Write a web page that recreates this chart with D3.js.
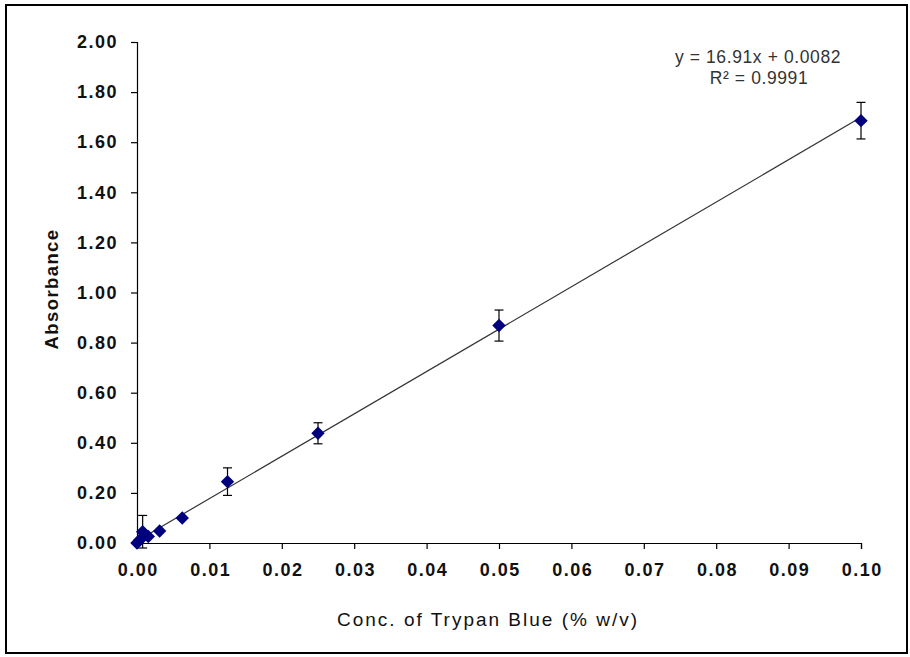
<!DOCTYPE html>
<html><head><meta charset="utf-8">
<script src="https://cdn.jsdelivr.net/npm/d3@7"></script>
<style>body{margin:0;background:#fff}svg{display:block}</style>
</head><body>
<script>
const concentrations = [0, 0.00039, 0.00078, 0.00156, 0.003125, 0.00625, 0.0125, 0.025, 0.05, 0.1];
const absorbance = [0.00, 0.012, 0.045, 0.026, 0.048, 0.100, 0.245, 0.438, 0.868, 1.686];
const errors = [0.0, 0.0, 0.065, 0.0, 0.0, 0.0, 0.055, 0.042, 0.062, 0.073];
const xTicks = [0, 0.01, 0.02, 0.03, 0.04, 0.05, 0.06, 0.07, 0.08, 0.09, 0.10];
const yTicks = [0, 0.2, 0.4, 0.6, 0.8, 1.0, 1.2, 1.4, 1.6, 1.8, 2.0];
const slope = 16.91, intercept = 0.0082;
const xTitle = "Conc. of Trypan Blue (% w/v)";
const yTitle = "Absorbance";
const eqText = "y = 16.91x + 0.0082";
const r2Text = "R² = 0.9991";

const W = 910, H = 657;
const svg = d3.select("body").append("svg").attr("width", W).attr("height", H);
svg.append("rect").attr("x", 6).attr("y", 5).attr("width", 901).attr("height", 648)
  .attr("fill", "#fff").attr("stroke", "#000").attr("stroke-width", 2);

const x = d3.scaleLinear().domain([0, 0.1]).range([137, 861]);
const y = d3.scaleLinear().domain([0, 2]).range([543, 42]);
const font = "Liberation Sans, Arial, sans-serif";

const gx = svg.append("g").attr("transform", "translate(0,543)")
  .call(d3.axisBottom(x).tickValues(xTicks).tickFormat(d3.format(".2f")).tickSizeOuter(0).tickSize(6).tickPadding(14));
const gy = svg.append("g").attr("transform", "translate(137,0)")
  .call(d3.axisLeft(y).tickValues(yTicks).tickFormat(d3.format(".2f")).tickSizeOuter(0).tickSize(6).tickPadding(13));
[gx, gy].forEach(g => {
  g.select(".domain").attr("stroke", "#000").attr("stroke-width", 1.2);
  g.selectAll(".tick line").attr("stroke", "#000").attr("stroke-width", 1.2);
  g.selectAll(".tick text").attr("fill", "#111").style("font-family", font)
    .style("font-size", "18px").style("font-weight", "bold").style("letter-spacing", "1.5px");
});
gx.selectAll(".tick text").attr("dx", "0.75px");

// trendline
svg.append("line").attr("x1", x(0)).attr("y1", y(intercept))
  .attr("x2", x(0.1)).attr("y2", y(slope * 0.1 + intercept))
  .attr("stroke", "#333").attr("stroke-width", 1.2);

// error bars
const eb = svg.append("g").attr("stroke", "#000").attr("stroke-width", 1.2);
concentrations.forEach((c, i) => {
  if (errors[i] <= 0) return;
  const cx = x(c), t = y(absorbance[i] + errors[i]), b = y(absorbance[i] - errors[i]);
  eb.append("line").attr("x1", cx).attr("x2", cx).attr("y1", t).attr("y2", b);
  eb.append("line").attr("x1", cx - 4.5).attr("x2", cx + 4.5).attr("y1", t).attr("y2", t);
  eb.append("line").attr("x1", cx - 4.5).attr("x2", cx + 4.5).attr("y1", b).attr("y2", b);
});

// markers
const sym = d3.symbol().type(d3.symbolSquare).size(90);
svg.append("g").selectAll("path").data(concentrations).join("path")
  .attr("transform", (d, i) => `translate(${x(d)},${y(absorbance[i])}) rotate(45)`)
  .attr("d", sym).attr("fill", "#00007f");

// titles
svg.append("text").attr("x", 488).attr("y", 626).attr("text-anchor", "middle")
  .style("font-family", font).style("font-size", "19px").style("letter-spacing", "2px")
  .attr("fill", "#111").text(xTitle);
svg.append("text").attr("transform", "translate(58,289) rotate(-90)").attr("text-anchor", "middle")
  .style("font-family", font).style("font-size", "18.5px").style("font-weight", "bold")
  .style("letter-spacing", "1.4px").attr("fill", "#111").text(yTitle);

svg.append("text").attr("x", 758).attr("y", 63).attr("text-anchor", "middle")
  .style("font-family", font).style("font-size", "17.5px").style("letter-spacing", "0.6px")
  .attr("fill", "#333").text(eqText);
svg.append("text").attr("x", 759).attr("y", 84).attr("text-anchor", "middle")
  .style("font-family", font).style("font-size", "17.5px").style("letter-spacing", "0.6px")
  .attr("fill", "#333").text(r2Text);
</script>
</body></html>
